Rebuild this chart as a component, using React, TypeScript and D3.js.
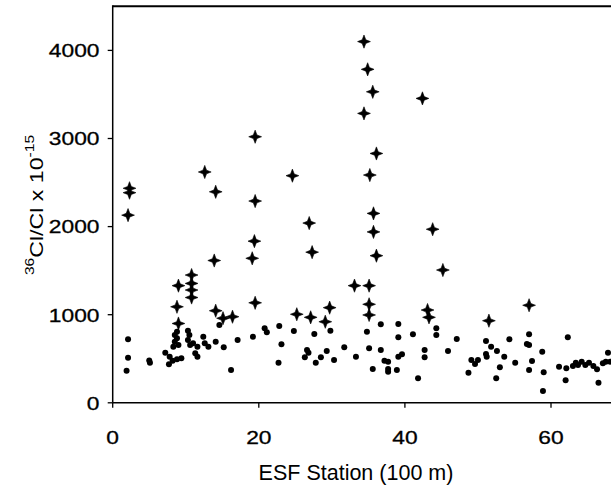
import React from "react";
import * as d3 from "d3";

// Crosses series (ESF station in 100 m, 36Cl/Cl x 1e-15)
const crossX = [2.3, 2.3, 2.1, 19.5, 12.6, 14.1, 24.6, 19.5, 34.4, 34.9, 35.6, 42.4, 34.4, 36.1, 35.2, 35.7, 26.9, 19.4, 27.3, 13.9, 19.1, 10.8, 9.0, 10.8, 10.8, 10.8, 33.1, 8.8, 19.5, 14.1, 15.1, 16.4, 25.2, 27.1, 29.7, 29.1, 9.0, 35.7, 43.8, 36.1, 45.2, 35.1, 35.1, 35.1, 43.1, 43.3, 57.0, 51.5];
const crossY = [2435, 2385, 2130, 3020, 2620, 2395, 2578, 2290, 4100, 3785, 3530, 3455, 3285, 2830, 2585, 2150, 2040, 1835, 1710, 1615, 1640, 1450, 1330, 1355, 1280, 1195, 1330, 1090, 1135, 1045, 960, 977, 1005, 970, 1080, 920, 900, 1940, 1970, 1670, 1507, 1330, 1118, 997, 1053, 970, 1107, 932];

// Dots series
const dotX = [2.1, 2.1, 1.9, 5.0, 5.1, 7.2, 7.8, 7.7, 8.2, 8.8, 9.4, 8.5, 8.8, 8.5, 9.0, 8.3, 8.8, 10.3, 10.5, 10.3, 10.6, 11.0, 11.6, 12.4, 12.6, 13.1, 11.3, 11.6, 14.1, 15.2, 14.6, 17.1, 19.2, 20.8, 21.1, 16.2, 22.7, 22.8, 23.1, 24.8, 27.6, 29.8, 26.6, 26.8, 26.3, 27.8, 28.5, 29.3, 30.3, 31.7, 33.3, 34.8, 36.7, 35.1, 36.7, 37.2, 37.7, 35.6, 37.7, 37.7, 38.9, 39.1, 39.1, 41.1, 39.1, 39.6, 41.8, 42.7, 42.7, 44.3, 44.3, 47.1, 45.9, 49.1, 49.6, 50.0, 48.7, 51.1, 51.8, 51.1, 51.2, 52.6, 53.6, 53.0, 52.5, 54.3, 55.1, 57.0, 56.7, 57.0, 57.4, 57.0, 58.8, 59.0, 58.9, 61.1, 62.3, 62.1, 62.0, 63.0, 63.4, 63.7, 64.2, 64.7, 65.2, 65.8, 66.3, 66.5, 67.1, 67.5, 67.8, 68.1];
const dotY = [720, 512, 364, 480, 455, 569, 523, 437, 478, 494, 505, 770, 807, 694, 656, 637, 732, 818, 770, 713, 656, 675, 637, 750, 675, 637, 562, 523, 694, 630, 883, 713, 750, 846, 800, 372, 455, 872, 664, 815, 781, 818, 599, 569, 516, 455, 516, 588, 486, 630, 523, 807, 891, 619, 599, 478, 467, 384, 384, 353, 372, 894, 743, 778, 523, 551, 278, 599, 516, 846, 770, 724, 588, 486, 440, 486, 342, 701, 637, 554, 523, 588, 523, 403, 278, 721, 455, 778, 667, 656, 474, 372, 580, 346, 134, 410, 743, 392, 255, 418, 455, 429, 467, 429, 455, 418, 380, 228, 448, 467, 569, 467];

const xTicks = [0, 20, 40, 60];
const yTicks = [0, 1000, 2000, 3000, 4000];

const W = 611;
const H = 497;
const FONT = "'Liberation Sans', Arial, Helvetica, sans-serif";

export default function App() {
  const x = d3.scaleLinear().domain([0, 70]).range([112.7, 624.05]);
  const y = d3.scaleLinear().domain([0, 4500]).range([402.8, 6.35]);
  const left = x(0);
  const bottom = y(0);
  const top = y(4500);

  const star = "M0,-6.6L1.8,-1.8L6.4,0L1.8,1.8L0,6.6L-1.8,1.8L-6.4,0L-1.8,-1.8Z";

  const crosses = crossX.map((v, i) => ({ x: v, y: crossY[i] }));
  const dots = dotX.map((v, i) => ({ x: v, y: dotY[i] }));

  return (
    <svg
      width={W}
      height={H}
      style={{ position: "absolute", left: 0, top: 0, background: "#fff" }}
      fontFamily={FONT}
    >
      <rect x={0} y={0} width={W} height={H} fill="#fff" />
      {/* frame */}
      <line x1={left} x2={W + 5} y1={top} y2={top} stroke="#000" strokeWidth={2} />
      <line x1={left} x2={left} y1={top - 1} y2={bottom} stroke="#000" strokeWidth={1.5} />
      <line x1={left} x2={W + 5} y1={bottom} y2={bottom} stroke="#000" strokeWidth={1.5} />

      {/* y ticks */}
      {yTicks.map((t) => (
        <g key={"y" + t}>
          <line x1={left - 5} x2={left} y1={y(t)} y2={y(t)} stroke="#000" strokeWidth={1.3} />
          <text
            transform={`translate(99.5,${y(t)}) scale(1.2,1)`}
            textAnchor="end"
            dy="0.36em"
            fontSize={19}
            fill="#000"
            stroke="#000"
            strokeWidth={0.3}
          >
            {t}
          </text>
        </g>
      ))}

      {/* x ticks */}
      {xTicks.map((t) => (
        <g key={"x" + t}>
          <line x1={x(t)} x2={x(t)} y1={bottom} y2={bottom + 5} stroke="#000" strokeWidth={1.3} />
          <text
            transform={`translate(${x(t)},444) scale(1.2,1)`}
            textAnchor="middle"
            fontSize={19}
            fill="#000"
            stroke="#000"
            strokeWidth={0.3}
          >
            {t}
          </text>
        </g>
      ))}

      {/* axis titles */}
      <text x={356} y={480} textAnchor="middle" fontSize={21.5} fill="#000">
        ESF Station (100 m)
      </text>
      <text
        transform="translate(43,205) rotate(-90) scale(1.25,1)"
        textAnchor="middle"
        fontSize={18.5}
        fill="#000"
      >
        <tspan fontSize={12.5} dy={-9}>36</tspan>
        <tspan dy={9}>Cl/Cl x 10</tspan>
        <tspan fontSize={12.5} dy={-9}>-15</tspan>
      </text>

      {/* data */}
      {dots.map((d, i) => (
        <circle key={"d" + i} cx={x(d.x)} cy={y(d.y)} r={3} fill="#000" />
      ))}
      {crosses.map((d, i) => (
        <path key={"c" + i} d={star} transform={`translate(${x(d.x)},${y(d.y)})`} fill="#000" stroke="#000" strokeWidth={0.6} strokeLinejoin="round" />
      ))}
    </svg>
  );
}
